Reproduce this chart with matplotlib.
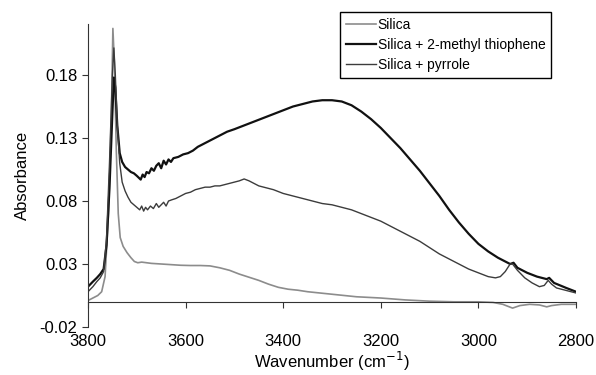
import numpy as np
import matplotlib.pyplot as plt

plt.rcParams['font.family'] = ['Liberation Sans', 'DejaVu Sans']

# Silica
silica_wn = [3800, 3790, 3780, 3772, 3765, 3758, 3752, 3749, 3746, 3742, 3738, 3734,
             3728, 3720, 3712, 3705, 3698, 3690, 3680, 3670, 3650, 3630, 3610, 3590,
             3570, 3550, 3530, 3510, 3490, 3470, 3450, 3430, 3410, 3390, 3370, 3350,
             3300, 3250, 3200, 3150, 3100, 3050, 3000, 2970, 2950, 2930, 2915, 2895,
             2875, 2860, 2850, 2830, 2800]
silica_ab = [0.001, 0.003, 0.005, 0.008, 0.02, 0.07, 0.15, 0.217, 0.19, 0.12, 0.07, 0.051,
             0.044, 0.039, 0.035, 0.032, 0.031, 0.0315, 0.031, 0.0305, 0.030, 0.0295, 0.029, 0.0288,
             0.0288, 0.0285, 0.027, 0.025, 0.022, 0.0195, 0.017, 0.014, 0.0115, 0.010, 0.0092, 0.008,
             0.006, 0.004, 0.003, 0.0015, 0.0005, 0.0, 0.0, -0.0005, -0.002, -0.005, -0.003, -0.002,
             -0.0025, -0.004, -0.003, -0.002, -0.002]

# Silica + 2-methyl thiophene
mt_wn = [3800, 3790, 3782, 3775, 3768, 3762, 3756, 3750, 3747, 3744, 3740, 3735, 3730,
         3724, 3718, 3712, 3706, 3700, 3696, 3692, 3688, 3684, 3680, 3675, 3670, 3665,
         3660, 3655, 3650, 3645, 3640, 3635, 3630, 3625, 3615, 3605, 3595, 3585, 3575,
         3565, 3555, 3545, 3530, 3515, 3500, 3480, 3460, 3440, 3420, 3400, 3380, 3360,
         3340, 3320, 3300, 3280, 3260, 3240, 3220, 3200, 3180, 3160, 3140, 3120, 3100,
         3080, 3060, 3040, 3020, 3000, 2980, 2960, 2945, 2935, 2928, 2920, 2900, 2880,
         2860, 2855, 2845, 2820, 2800]
mt_ab = [0.012, 0.016, 0.019, 0.022, 0.026, 0.045, 0.09, 0.15, 0.178, 0.17, 0.14, 0.118, 0.111,
         0.107, 0.105, 0.103, 0.102, 0.100, 0.0985, 0.097, 0.101, 0.099, 0.103, 0.102, 0.106, 0.104,
         0.108, 0.110, 0.106, 0.112, 0.109, 0.113, 0.111, 0.114, 0.115, 0.117, 0.118, 0.120, 0.123,
         0.125, 0.127, 0.129, 0.132, 0.135, 0.137, 0.140, 0.143, 0.146, 0.149, 0.152, 0.155, 0.157,
         0.159, 0.160, 0.160, 0.159, 0.156, 0.151, 0.145, 0.138, 0.130, 0.122, 0.113, 0.104, 0.094,
         0.084, 0.073, 0.063, 0.054, 0.046, 0.040, 0.035, 0.032, 0.030, 0.031, 0.027, 0.023, 0.020,
         0.018, 0.019, 0.015, 0.011, 0.008]

# Silica + pyrrole
py_wn = [3800, 3790, 3782, 3775, 3768, 3762, 3756, 3750, 3747, 3744, 3740, 3735, 3730,
         3724, 3718, 3712, 3706, 3700, 3694, 3690, 3686, 3682, 3678, 3672, 3666, 3660,
         3655, 3650, 3645, 3640, 3635, 3628, 3620, 3610, 3600, 3590, 3580, 3570, 3560,
         3550, 3540, 3530, 3520, 3510, 3500, 3490, 3480, 3470, 3460, 3450, 3440, 3420,
         3400, 3380, 3360, 3340, 3320, 3300, 3280, 3260, 3240, 3220, 3200, 3180, 3160,
         3140, 3120, 3100, 3080, 3060, 3040, 3020, 3000, 2980, 2965, 2955, 2945, 2935,
         2930, 2920, 2905, 2890, 2875, 2865, 2857, 2850, 2840, 2820, 2800]
py_ab = [0.008, 0.012, 0.016, 0.019, 0.024, 0.05, 0.11, 0.18, 0.2015, 0.18, 0.14, 0.110, 0.095,
         0.088, 0.083, 0.079, 0.077, 0.075, 0.073, 0.076, 0.072, 0.075, 0.073, 0.076, 0.074, 0.078,
         0.075, 0.077, 0.079, 0.076, 0.080, 0.081, 0.082, 0.084, 0.086, 0.087, 0.089, 0.090, 0.091,
         0.091, 0.092, 0.092, 0.093, 0.094, 0.095, 0.096, 0.0975, 0.096, 0.094, 0.092, 0.091, 0.089,
         0.086, 0.084, 0.082, 0.080, 0.078, 0.077, 0.075, 0.073, 0.070, 0.067, 0.064, 0.060, 0.056,
         0.052, 0.048, 0.043, 0.038, 0.034, 0.030, 0.026, 0.023, 0.020, 0.019, 0.020, 0.024, 0.030,
         0.030, 0.025, 0.019, 0.015, 0.012, 0.013, 0.017, 0.014, 0.011, 0.009, 0.007]

fig = plt.figure(figsize=(5.96, 3.75), dpi=100)
ax = fig.add_axes([88 / 596, 1 - 327 / 375, (576 - 88) / 596, (327 - 24) / 375])

ax.plot(silica_wn, silica_ab, color='#8c8c8c', lw=1.2, label='Silica')
ax.plot(mt_wn, mt_ab, color='#111111', lw=1.6, label='Silica + 2-methyl thiophene')
ax.plot(py_wn, py_ab, color='#3c3c3c', lw=1.0, label='Silica + pyrrole')

ax.set_xlim(3800, 2800)
ax.set_ylim(-0.02, 0.2205)
ax.set_xticks([3800, 3600, 3400, 3200, 3000, 2800])
ax.set_yticks([-0.02, 0.03, 0.08, 0.13, 0.18])
ax.set_yticklabels(['-0.02', '0.03', '0.08', '0.13', '0.18'])

for s in ['top', 'right']:
    ax.spines[s].set_visible(False)
ax.spines['bottom'].set_position(('data', 0))
ax.spines['bottom'].set_color('#333333')
ax.spines['left'].set_color('#333333')
ax.tick_params(axis='both', labelsize=12, length=4, color='#333333')
ax.tick_params(axis='x', pad=19)

ax.set_xlabel('Wavenumber (cm$^{-1}$)', fontsize=12, labelpad=1)
ax.set_ylabel('Absorbance', fontsize=12, labelpad=7)

leg = ax.legend(loc='upper left', bbox_to_anchor=(340 / 596, 1 - 12 / 375),
                bbox_transform=fig.transFigure, borderaxespad=0, fontsize=10,
                fancybox=False, edgecolor='black', framealpha=1,
                handlelength=2.2, handletextpad=0.1, labelspacing=0.45,
                borderpad=0.4)
leg.get_frame().set_linewidth(1.0)

fig.savefig('out.png', dpi=100)
